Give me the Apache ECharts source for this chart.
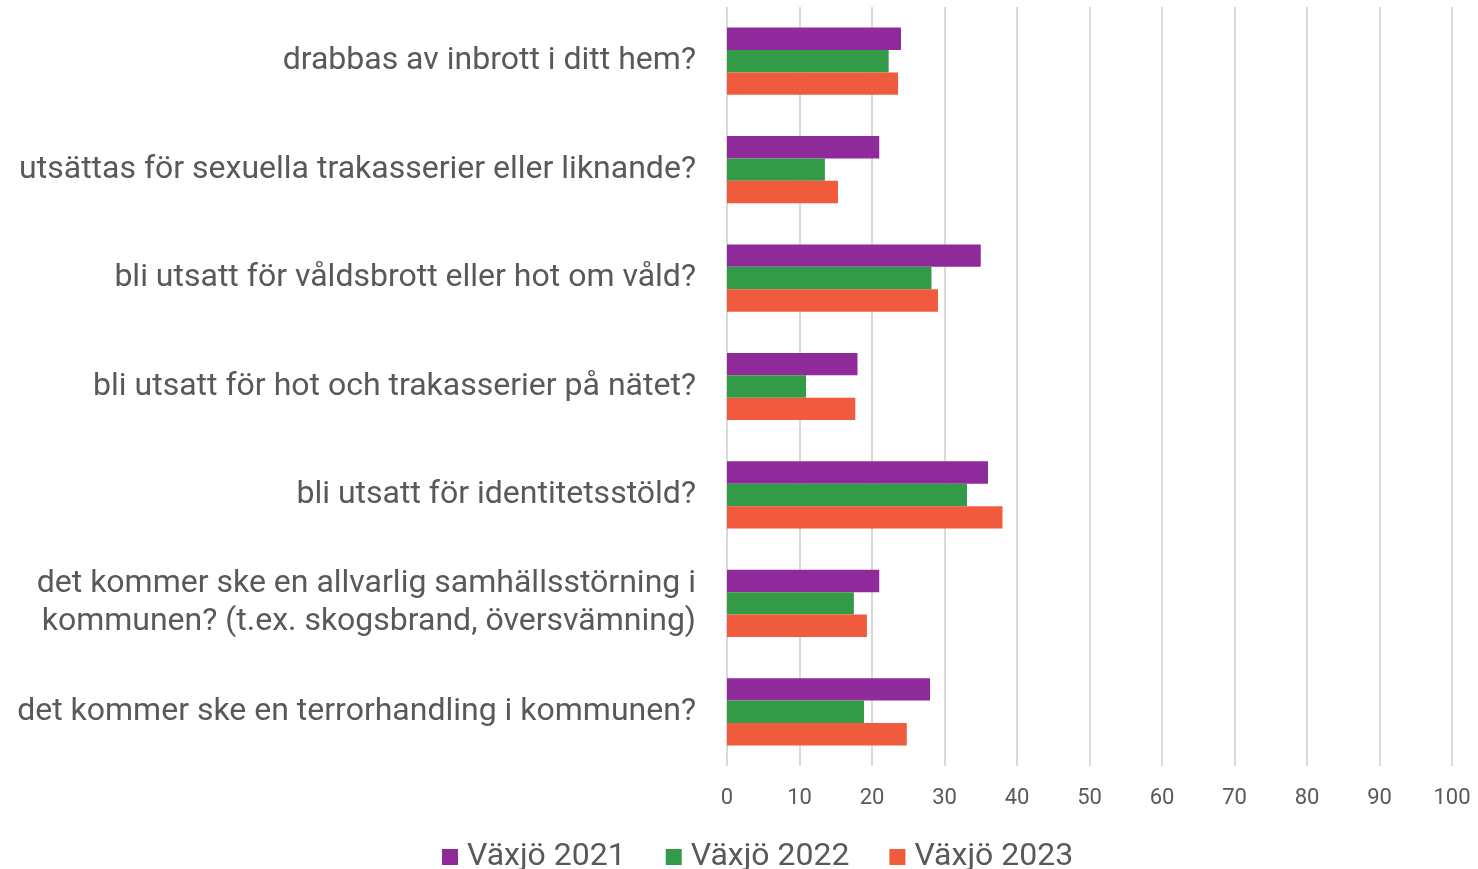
<!DOCTYPE html>
<html>
<head>
<meta charset="utf-8">
<script src="https://cdn.jsdelivr.net/npm/echarts@6/dist/echarts.min.js"></script>
<style>
  html, body { margin: 0; padding: 0; background: #fff; }
  #chartBox { width: 1478px; height: 869px; }
</style>
</head>
<body>
<div id="chartBox"></div>
<script>
// frågor (uppifrån och ned)
var categories = [
  'drabbas av inbrott i ditt hem?',
  'utsättas för sexuella trakasserier eller liknande?',
  'bli utsatt för våldsbrott eller hot om våld?',
  'bli utsatt för hot och trakasserier på nätet?',
  'bli utsatt för identitetsstöld?',
  'det kommer ske en allvarlig samhällsstörning i\nkommunen? (t.ex. skogsbrand, översvämning)',
  'det kommer ske en terrorhandling i kommunen?'
];
var seriesNames = ['Växjö 2021', 'Växjö 2022', 'Växjö 2023'];
var vaxjo2021 = [24.0, 21.0, 35.0, 18.0, 36.0, 21.0, 28.0];
var vaxjo2022 = [22.3, 13.5, 28.2, 10.9, 33.1, 17.5, 18.9];
var vaxjo2023 = [23.6, 15.3, 29.1, 17.7, 38.0, 19.3, 24.8];
var colors = ['#8f2a9b', '#339b47', '#ef5b3c'];

var myChart = echarts.init(document.getElementById('chartBox'));
var font = 'Roboto, sans-serif';

myChart.setOption({
  animation: false,
  textStyle: { fontFamily: font },
  grid: {
    left: 727,
    right: 26,
    top: 7,
    bottom: 103
  },
  legend: {
    data: seriesNames,
    left: 437,
    top: 836,
    icon: 'rect',
    itemWidth: 16,
    itemHeight: 16,
    itemGap: 40,
    textStyle: { fontSize: 32, color: '#595959', fontFamily: font, padding: [0, 0, 0, 4] }
  },
  xAxis: {
    type: 'value',
    min: 0,
    max: 100,
    interval: 10,
    axisLine: { show: false },
    axisTick: { show: false },
    splitLine: { lineStyle: { color: '#d9d9d9', width: 2 } },
    axisLabel: { fontSize: 22, color: '#595959', margin: 21, fontFamily: font }
  },
  yAxis: {
    type: 'category',
    inverse: true,
    data: categories,
    axisLine: { show: false },
    axisTick: { show: false },
    axisLabel: {
      fontSize: 32,
      color: '#595959',
      margin: 31,
      lineHeight: 38,
      padding: [4, 0, 0, 0],
      fontFamily: font
    }
  },
  series: [
    {
      name: seriesNames[0],
      type: 'bar',
      data: vaxjo2021,
      barGap: '0%',
      barCategoryGap: '38%',
      itemStyle: { color: colors[0] }
    },
    {
      name: seriesNames[1],
      type: 'bar',
      data: vaxjo2022,
      barGap: '0%',
      barCategoryGap: '38%',
      itemStyle: { color: colors[1] }
    },
    {
      name: seriesNames[2],
      type: 'bar',
      data: vaxjo2023,
      barGap: '0%',
      barCategoryGap: '38%',
      itemStyle: { color: colors[2] }
    }
  ]
});
</script>
</body>
</html>
